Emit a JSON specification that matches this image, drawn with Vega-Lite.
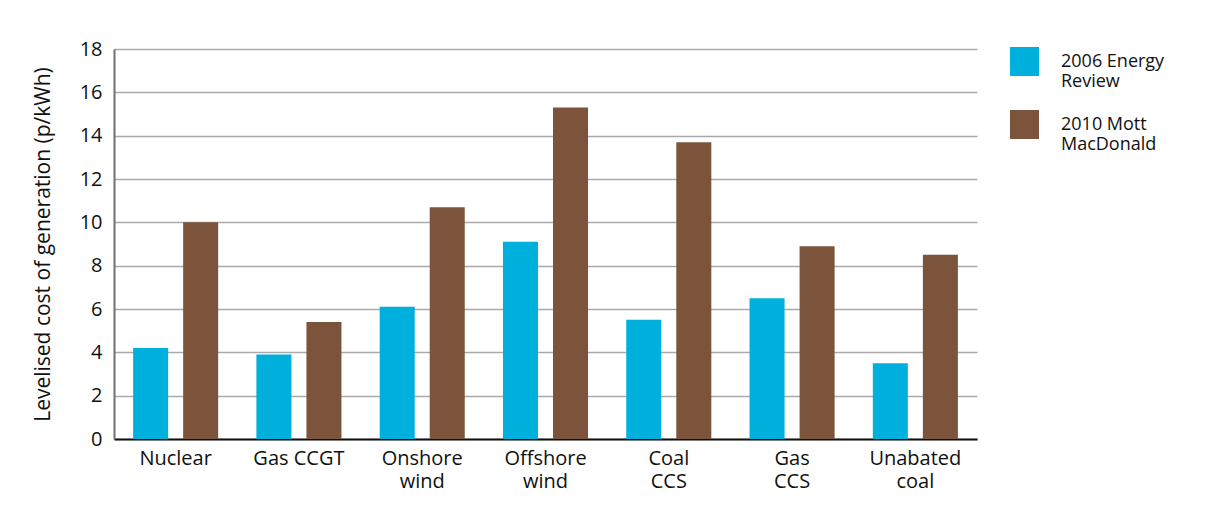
{
  "$schema": "https://vega.github.io/schema/vega-lite/v6.json",
  "width": 863,
  "height": 390,
  "autosize": {"type": "none"},
  "padding": {"left": 114, "top": 49, "right": 230, "bottom": 83},
  "background": "#ffffff",
  "config": {
    "view": {"stroke": null},
    "font": "Open Sans"
  },
  "data": {
    "values": [
      {"tech": "Nuclear", "source": "2006 Energy Review", "cost": 4.2},
      {"tech": "Nuclear", "source": "2010 Mott MacDonald", "cost": 10.0},
      {"tech": "Gas CCGT", "source": "2006 Energy Review", "cost": 3.9},
      {"tech": "Gas CCGT", "source": "2010 Mott MacDonald", "cost": 5.4},
      {"tech": "Onshore wind", "source": "2006 Energy Review", "cost": 6.1},
      {"tech": "Onshore wind", "source": "2010 Mott MacDonald", "cost": 10.7},
      {"tech": "Offshore wind", "source": "2006 Energy Review", "cost": 9.1},
      {"tech": "Offshore wind", "source": "2010 Mott MacDonald", "cost": 15.3},
      {"tech": "Coal CCS", "source": "2006 Energy Review", "cost": 5.5},
      {"tech": "Coal CCS", "source": "2010 Mott MacDonald", "cost": 13.7},
      {"tech": "Gas CCS", "source": "2006 Energy Review", "cost": 6.5},
      {"tech": "Gas CCS", "source": "2010 Mott MacDonald", "cost": 8.9},
      {"tech": "Unabated coal", "source": "2006 Energy Review", "cost": 3.5},
      {"tech": "Unabated coal", "source": "2010 Mott MacDonald", "cost": 8.5}
    ]
  },
  "mark": {"type": "bar"},
  "encoding": {
    "x": {
      "field": "tech",
      "type": "nominal",
      "sort": null,
      "scale": {"paddingInner": 0.31, "paddingOuter": 0.155},
      "axis": {
        "title": null,
        "labelAngle": 0,
        "labelFont": "Open Sans",
        "labelFontSize": 20,
        "labelColor": "#111111",
        "labelPadding": 9,
        "labelLineHeight": 23,
        "labelBaseline": "top",
        "labelExpr": "datum.label == 'Gas CCGT' ? datum.label : split(datum.label, ' ')",
        "ticks": false,
        "domainColor": "#111111",
        "domainWidth": 2,
        "grid": false
      }
    },
    "xOffset": {
      "field": "source",
      "type": "nominal",
      "scale": {"paddingInner": 0.3, "paddingOuter": 0}
    },
    "y": {
      "field": "cost",
      "type": "quantitative",
      "scale": {"domain": [0, 18]},
      "axis": {
        "title": "Levelised cost of generation (p/kWh)",
        "titleFont": "Open Sans",
        "titleFontSize": 21,
        "titleFontWeight": "normal",
        "titleColor": "#111111",
        "titlePadding": 26,
        "values": [0, 2, 4, 6, 8, 10, 12, 14, 16, 18],
        "labelFont": "Open Sans",
        "labelFontSize": 20,
        "labelColor": "#111111",
        "labelPadding": 12,
        "ticks": false,
        "domainColor": "#707070",
        "domainWidth": 2,
        "gridColor": "#aaaaaa",
        "gridWidth": 1.5,
        "gridOpacity": 1
      }
    },
    "color": {
      "field": "source",
      "type": "nominal",
      "scale": {
        "domain": ["2006 Energy Review", "2010 Mott MacDonald"],
        "range": ["#00b0dc", "#7c543c"]
      },
      "legend": {
        "title": null,
        "orient": "none",
        "legendX": 896,
        "legendY": -2,
        "symbolType": "square",
        "symbolSize": 840,
        "symbolStrokeWidth": 0,
        "symbolOpacity": 1,
        "labelFont": "Open Sans",
        "labelFontSize": 18,
        "labelColor": "#111111",
        "labelLineHeight": 20,
        "labelOffset": 22,
        "rowPadding": 19,
        "labelExpr": "datum.label == '2006 Energy Review' ? ['2006 Energy', 'Review'] : ['2010 Mott', 'MacDonald']"
      }
    }
  }
}
